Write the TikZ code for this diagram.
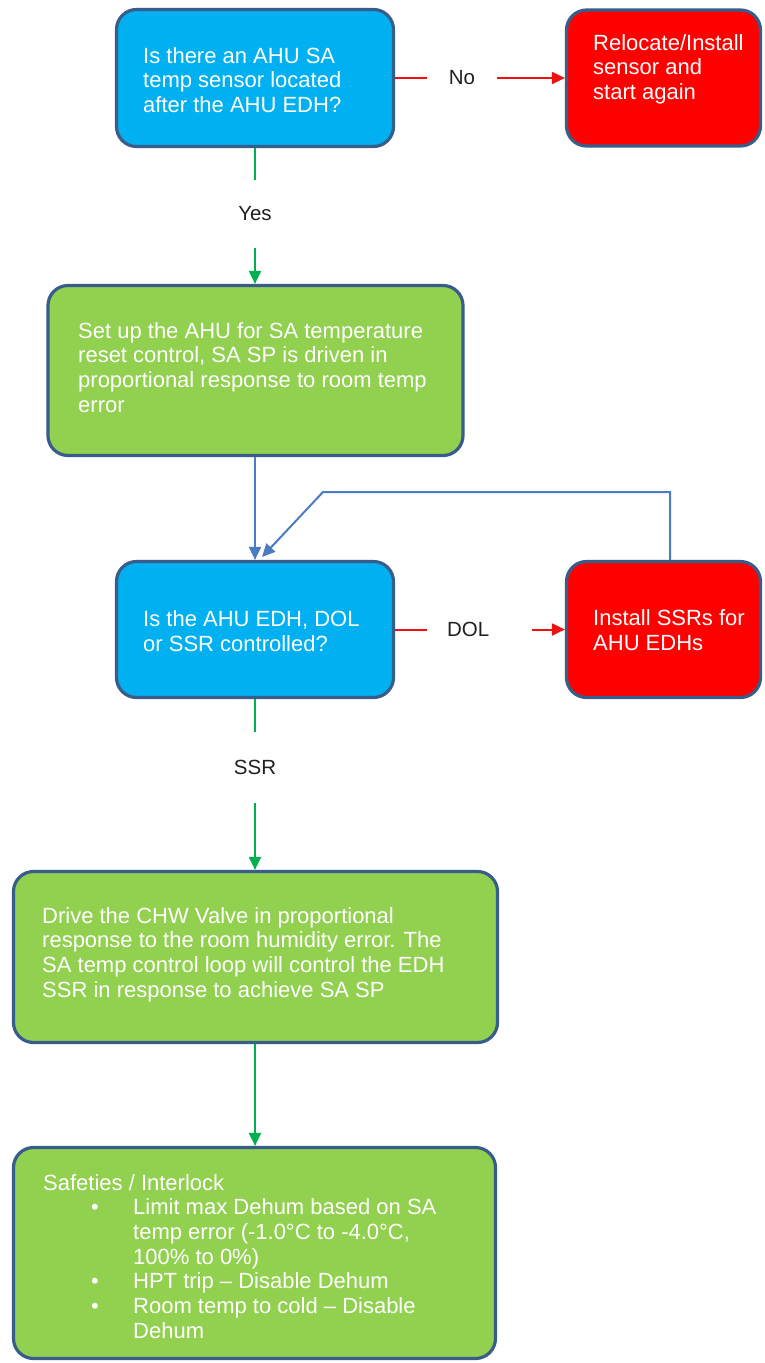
\documentclass[tikz,border=0pt]{standalone}
\usepackage{fontspec}
\setmainfont{Liberation Sans}
\usetikzlibrary{arrows.meta,calc}
\definecolor{bfill}{HTML}{00B0F0}
\definecolor{gfill}{HTML}{92D050}
\definecolor{rfill}{HTML}{FF0000}
\definecolor{bord}{HTML}{385D8A}
\definecolor{redc}{HTML}{F01010}
\definecolor{greenc}{HTML}{00B050}
\definecolor{bluec}{HTML}{4A7CC4}
\definecolor{lblc}{HTML}{202020}
\newcommand\bulitem{\makebox[90pt][l]{\hspace*{48pt}\textbullet}}
\newcommand\inditem{\hspace*{90pt}}
\tikzset{
  box/.style={draw=bord, line width=3.2pt, rounded corners=20pt, inner sep=0pt},
  bluebox/.style={box, fill=bfill},
  redbox/.style={box, fill=rfill},
  greenbox/.style={box, fill=gfill},
  txt/.style={text=white, font=\fontsize{22}{24.7}\selectfont, align=left, inner sep=0pt},
  lbl/.style={text=lblc, font=\fontsize{20.5}{24}\selectfont, inner sep=0pt},
  tip/.style={-{Triangle[length=13pt,width=12pt]}},
  redline/.style={draw=redc, line width=2pt},
  greenline/.style={draw=greenc, line width=2pt},
  blueline/.style={draw=bluec, line width=2pt},
}
\begin{document}
\begin{tikzpicture}[x=1pt,y=-1pt]
\fill[white] (0,0) rectangle (764,1363);
\useasboundingbox (0,0) rectangle (764,1363);

% boxes
\node[bluebox, minimum width=277pt, minimum height=137pt] (q1) at (255,78) {};
\node[txt, anchor=west] (q1t) at (143,80) {Is there an AHU SA\\temp sensor located\\after the AHU EDH?};

\node[redbox, minimum width=194pt, minimum height=136pt] (r1) at (663.5,78) {};
\node[txt, anchor=north west] (r1t) at (593,34) {Relocate/Install\\sensor and\\start again};

\node[greenbox, minimum width=415pt, minimum height=170pt] (g1) at (255.5,370.5) {};
\node[txt, anchor=north west] (g1t) at (78,322) {Set up the AHU for SA temperature\\reset control, SA SP is driven in\\proportional response to room temp\\error};

\node[bluebox, minimum width=277pt, minimum height=136pt] (q2) at (255,629.5) {};
\node[txt, anchor=west] (q2t) at (143,631) {Is the AHU EDH, DOL\\or SSR controlled?};

\node[redbox, minimum width=194pt, minimum height=136pt] (r2) at (663.5,629.5) {};
\node[txt, anchor=west] (r2t) at (593,630) {Install SSRs for\\AHU EDHs};

\node[greenbox, minimum width=484pt, minimum height=171pt] (g2) at (255.5,957) {};
\node[txt, anchor=north west] (g2t) at (42,907) {Drive the CHW Valve in proportional\\response to the room humidity error. The\\SA temp control loop will control the EDH\\SSR in response to achieve SA SP};

\node[greenbox, minimum width=482pt, minimum height=211pt] (g3) at (254.5,1253) {};
\node[txt, anchor=north west] (g3t) at (43,1174) {Safeties / Interlock\\
\bulitem Limit max Dehum based on SA\\
\inditem temp error (-1.0°C to -4.0°C,\\
\inditem 100\% to 0\%)\\
\bulitem HPT trip – Disable Dehum\\
\bulitem Room temp to cold – Disable\\
\inditem Dehum};

% labels
\node[lbl, minimum width=70pt] (no) at (462,78) {No};
\node[lbl, minimum height=68pt] (yes) at (255,214) {Yes};
\node[lbl, text width=65pt, inner xsep=20pt] (dol) at (479.5,629.5) {DOL};
\node[lbl, minimum height=71pt] (ssr) at (255,767.5) {SSR};

% connectors
\draw[redline] (q1.east) -- (no.west);
\draw[redline, tip] (no.east) -- (r1.west);
\draw[greenline] (q1.south) -- (yes.north);
\draw[greenline, tip] (yes.south) -- (yes.south |- g1.north);
\draw[blueline, tip] (g1.south -| q2.north) -- (q2.north);
\coordinate (fbA) at (670,492);
\coordinate (fbB) at (323,492);
\coordinate (fbT) at (262,557);
\draw[blueline, tip] (r2.north -| fbA) -- (fbA) -- (fbB) -- (fbT);
\draw[redline] (q2.east) -- (dol.west);
\draw[redline, tip] (dol.east) -- (r2.west);
\draw[greenline] (q2.south) -- (ssr.north);
\draw[greenline, tip] (ssr.south) -- (ssr.south |- g2.north);
\draw[greenline, tip] (g2.south -| ssr.south) -- (g3.north -| ssr.south);
\end{tikzpicture}
\end{document}
